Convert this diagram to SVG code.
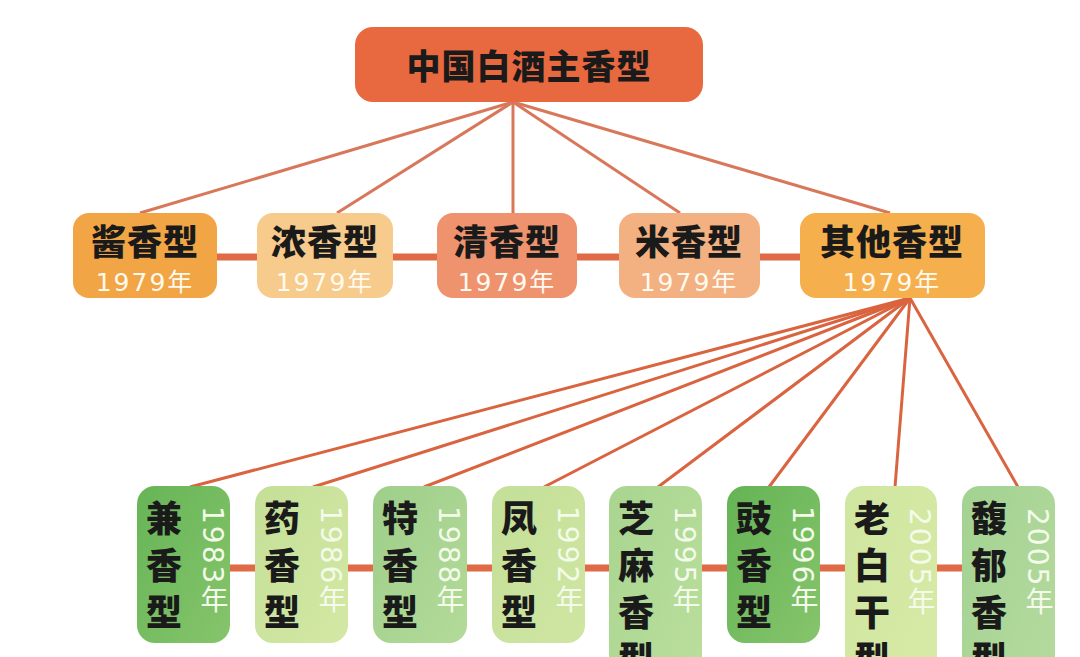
<svg xmlns="http://www.w3.org/2000/svg" width="1080" height="657" viewBox="0 0 1080 657">
<defs>
<style>
.t{font-family:"Noto Sans CJK SC","Noto Sans",sans-serif;font-weight:900;fill:#1a1a1a}
.mt{font-size:35px;letter-spacing:1px;text-anchor:middle}
.my{font-family:"DejaVu Sans","Noto Sans CJK SC",sans-serif;font-size:25px;fill:#fffaf0;text-anchor:middle;letter-spacing:2px}
.bt{font-family:"Noto Sans CJK SC",sans-serif;font-weight:900;font-size:36px;fill:#1a1a1a;writing-mode:vertical-rl;letter-spacing:11px}
.by{font-family:"DejaVu Sans","Noto Sans CJK SC",sans-serif;font-size:28px;fill:#f4fbea;writing-mode:vertical-rl;letter-spacing:2px}
.l1{stroke:#d8785a;stroke-width:3;fill:none}
.l2{stroke:#d9643f;stroke-width:3;fill:none}
.h{stroke:#e06a45;stroke-width:7;fill:none}
</style>
<linearGradient id="g1" x1="0" y1="0" x2="1" y2="1"><stop offset="0" stop-color="#66b556"/><stop offset="1" stop-color="#86c46c"/></linearGradient>
<linearGradient id="g2" x1="0" y1="0" x2="1" y2="1"><stop offset="0" stop-color="#c4df98"/><stop offset="1" stop-color="#d3e8a4"/></linearGradient>
<linearGradient id="g3" x1="0" y1="0" x2="1" y2="1"><stop offset="0" stop-color="#9ecf8a"/><stop offset="1" stop-color="#b3da98"/></linearGradient>
<linearGradient id="g4" x1="0" y1="0" x2="1" y2="1"><stop offset="0" stop-color="#c3df98"/><stop offset="1" stop-color="#cfe6a2"/></linearGradient>
<linearGradient id="g5" x1="0" y1="0" x2="1" y2="1"><stop offset="0" stop-color="#a8d590"/><stop offset="1" stop-color="#bcdf9e"/></linearGradient>
<linearGradient id="g6" x1="0" y1="0" x2="1" y2="1"><stop offset="0" stop-color="#64b455"/><stop offset="1" stop-color="#86c46c"/></linearGradient>
<linearGradient id="g7" x1="0" y1="0" x2="1" y2="1"><stop offset="0" stop-color="#cfe6a0"/><stop offset="1" stop-color="#d8eaa6"/></linearGradient>
<linearGradient id="g8" x1="0" y1="0" x2="1" y2="1"><stop offset="0" stop-color="#a2d292"/><stop offset="1" stop-color="#b6db9e"/></linearGradient>
</defs>
<rect width="1080" height="657" fill="#ffffff"/>
<g id="connectors">
<line class="l1" x1="513" y1="102" x2="140" y2="213"/>
<line class="l1" x1="513" y1="102" x2="337" y2="213"/>
<line class="l1" x1="513" y1="102" x2="513" y2="213"/>
<line class="l1" x1="513" y1="102" x2="680" y2="213"/>
<line class="l1" x1="513" y1="102" x2="890" y2="213"/>
<line class="h" x1="210" y1="257" x2="810" y2="257"/>
<line class="l2" x1="910" y1="298" x2="190" y2="487"/>
<line class="l2" x1="910" y1="298" x2="313" y2="487"/>
<line class="l2" x1="910" y1="298" x2="424" y2="487"/>
<line class="l2" x1="910" y1="298" x2="544" y2="487"/>
<line class="l2" x1="910" y1="298" x2="658" y2="487"/>
<line class="l2" x1="910" y1="298" x2="769" y2="487"/>
<line class="l2" x1="910" y1="298" x2="895" y2="487"/>
<line class="l2" x1="910" y1="298" x2="1018" y2="487"/>
<line class="h" x1="225" y1="568" x2="970" y2="568"/>
</g>
<g id="root">
<rect x="355" y="27" width="348" height="75" rx="18" fill="#e8683f"/>
<text class="t" x="529" y="79" font-size="34" text-anchor="middle" letter-spacing="1">中国白酒主香型</text>
</g>
<g id="jiang">
<rect x="73" y="213" width="144" height="85" rx="16" fill="#f2a545"/>
<text class="t mt" x="145" y="255">酱香型</text>
<text class="my" x="145" y="291">1979年</text>
</g>
<g id="nong">
<rect x="257" y="213" width="136" height="85" rx="16" fill="#f6cb8c"/>
<text class="t mt" x="325" y="255">浓香型</text>
<text class="my" x="325" y="291">1979年</text>
</g>
<g id="qing">
<rect x="437" y="213" width="140" height="85" rx="16" fill="#ee936d"/>
<text class="t mt" x="507" y="255">清香型</text>
<text class="my" x="507" y="291">1979年</text>
</g>
<g id="mi">
<rect x="619" y="213" width="141" height="85" rx="16" fill="#f3b080"/>
<text class="t mt" x="689" y="255">米香型</text>
<text class="my" x="689" y="291">1979年</text>
</g>
<g id="qita">
<rect x="800" y="213" width="185" height="85" rx="16" fill="#f5af4d"/>
<text class="t mt" x="892" y="255">其他香型</text>
<text class="my" x="892" y="291">1979年</text>
</g>
<g id="jian">
<rect x="137" y="486" width="93" height="157" rx="18" fill="url(#g1)"/>
<text class="bt" x="164" y="500">兼香型</text>
<text class="by" x="212" y="506">1983年</text>
</g>
<g id="yao">
<rect x="255" y="486" width="93" height="157" rx="18" fill="url(#g2)"/>
<text class="bt" x="282" y="500">药香型</text>
<text class="by" x="330" y="506">1986年</text>
</g>
<g id="te">
<rect x="373" y="486" width="94" height="157" rx="18" fill="url(#g3)"/>
<text class="bt" x="400" y="500">特香型</text>
<text class="by" x="448" y="506">1988年</text>
</g>
<g id="feng">
<rect x="492" y="486" width="93" height="157" rx="18" fill="url(#g4)"/>
<text class="bt" x="519" y="500">凤香型</text>
<text class="by" x="567" y="506">1992年</text>
</g>
<g id="zhima">
<rect x="609" y="486" width="93" height="220" rx="18" fill="url(#g5)"/>
<text class="bt" x="636" y="500">芝麻香型</text>
<text class="by" x="684" y="506">1995年</text>
</g>
<g id="chi">
<rect x="727" y="486" width="93" height="157" rx="18" fill="url(#g6)"/>
<text class="bt" x="754" y="500">豉香型</text>
<text class="by" x="802" y="506">1996年</text>
</g>
<g id="laobaigan">
<rect x="845" y="486" width="92" height="220" rx="18" fill="url(#g7)"/>
<text class="bt" x="872" y="500">老白干型</text>
<text class="by" x="919" y="508">2005年</text>
</g>
<g id="fuyu">
<rect x="962" y="486" width="93" height="220" rx="18" fill="url(#g8)"/>
<text class="bt" x="989" y="500">馥郁香型</text>
<text class="by" x="1037" y="508">2005年</text>
</g>
</svg>
